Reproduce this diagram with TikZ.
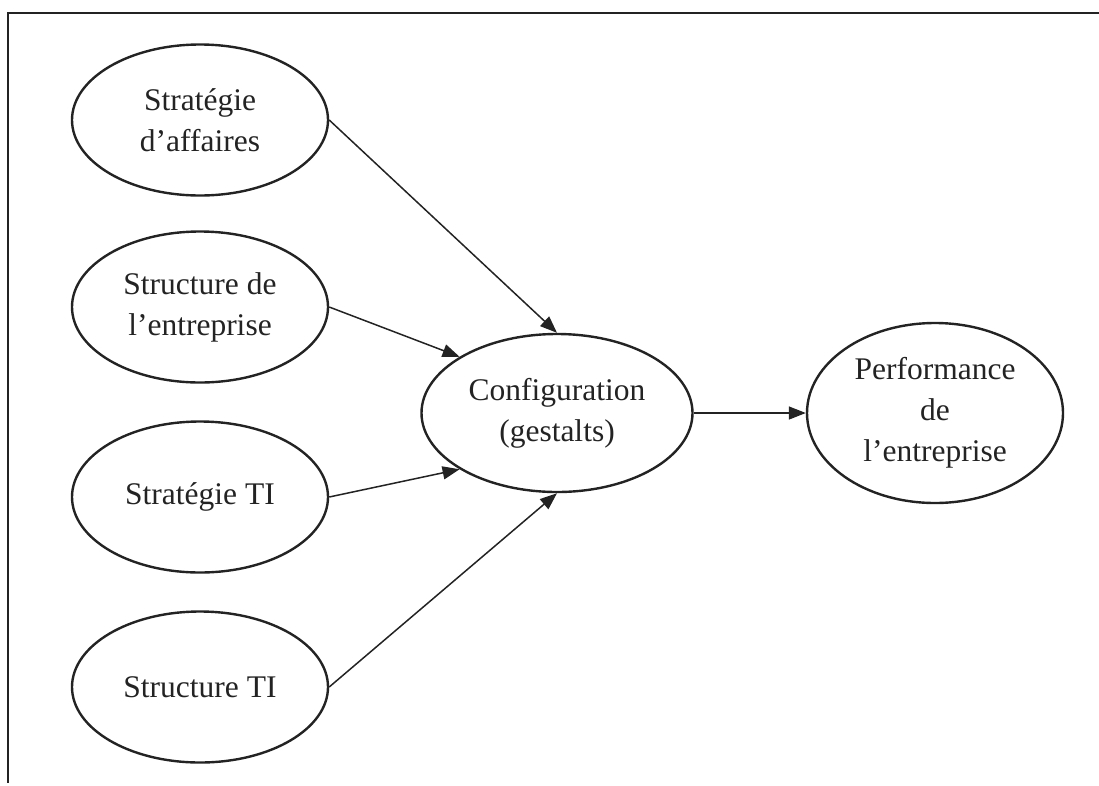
\documentclass[tikz,border=0pt]{standalone}
\usepackage{fontspec}
\setmainfont{Liberation Serif}
\usetikzlibrary{shapes.geometric,arrows.meta}
\definecolor{ink}{RGB}{35,35,35}
\begin{document}
\begin{tikzpicture}[x=1pt,y=-1pt,
  factor/.style={ellipse,draw=ink,line width=2.4pt,inner sep=0pt,
    minimum width=256pt,minimum height=151pt,align=center,text=ink,
    font=\fontsize{31.5}{41}\selectfont},
  link/.style={draw=ink,line width=1.5pt,-{Triangle[length=17pt,width=13pt]}}]
\useasboundingbox (0,0) rectangle (1099,785);
% open frame: top and left sides only
\draw[ink,line width=2pt] (1099,12.5) -- (8,12.5) -- (8,783);
% input factors
\node[factor] (strat) at (200,120) {Stratégie\\d’affaires};
\node[factor] (struct) at (200,307) {Structure de\\l’entreprise};
\node[factor] (stratti) at (200,497) {Stratégie TI};
\node[factor] (structti) at (200,687) {Structure TI};
% configuration and outcome
\node[factor,minimum width=271pt,minimum height=158pt] (config) at (557,413) {Configuration\\(gestalts)};
\node[factor,minimum height=180pt] (perf) at (935,413) {Performance\\de\\l’entreprise};
% links
\draw[link] (strat.east) -- (config.north);
\draw[link] (struct.east) -- (config.150);
\draw[link] (stratti.east) -- (config.210);
\draw[link] (structti.east) -- (config.south);
\draw[link] (config.east) -- (perf.west);
\end{tikzpicture}
\end{document}
